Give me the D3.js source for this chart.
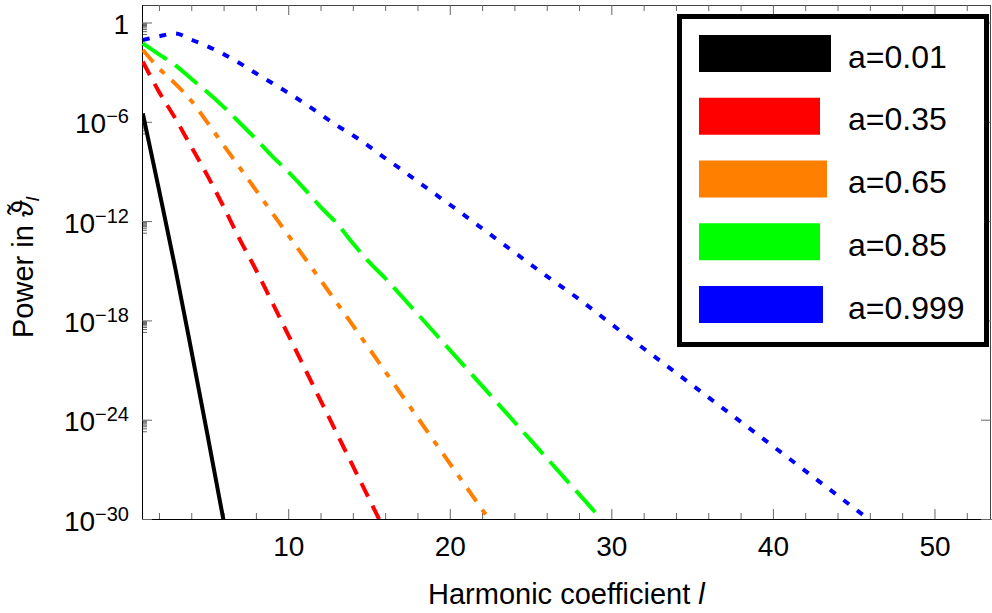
<!DOCTYPE html>
<html>
<head>
<meta charset="utf-8">
<script src="https://cdn.jsdelivr.net/npm/d3@7"></script>
<style>
  html, body { margin: 0; padding: 0; background: #fff; }
  svg { display: block; }
  text { font-family: "Liberation Sans", Arial, Helvetica, sans-serif; fill: #000; }
</style>
</head>
<body>
<svg id="chart" width="992" height="613"></svg>
<script>
// ---------------- data ----------------
const seriesNames = ["a=0.01", "a=0.35", "a=0.65", "a=0.85", "a=0.999"];

const blackL = [1, 2, 3, 4, 5, 6];
const blackP = [3.24e-6, 7.94e-11, 1.58e-15, 1.58e-20, 1.26e-25, 7.94e-31];

const redL = [1, 2, 3, 4, 5, 6, 7, 8, 9, 10, 11, 12, 13, 14, 15, 16];
const redP = [4.27e-3, 6.61e-5, 1.66e-6, 3.09e-8, 5.62e-10, 7.41e-12, 7.94e-14, 1.15e-15,
              1.29e-17, 1.35e-19, 1.41e-21, 1.48e-23, 1.55e-25, 1.62e-27, 1.70e-29, 1.78e-31];

const orangeL = [1, 2, 3, 4, 5, 6, 7, 8, 9, 10, 11, 12, 13, 14, 16, 18, 20, 22, 24];
const orangeP = [2.19e-2, 1.70e-3, 2.04e-4, 1.86e-5, 8.91e-7, 3.89e-8, 1.70e-9, 7.41e-11,
                 3.24e-12, 1.41e-13, 6.31e-15, 2.75e-16, 1.20e-17, 5.01e-19, 8.32e-22,
                 1.38e-24, 2.29e-27, 3.80e-30, 6.31e-33];

const greenL = [1, 2, 3, 4, 5, 6, 7, 8, 9, 10, 11, 12, 13, 14, 15, 16, 17, 18, 20, 22, 24, 26, 28, 30];
const greenP = [5.50e-2, 1.20e-2, 2.69e-3, 3.98e-4, 6.03e-5, 7.94e-6, 8.71e-7, 9.12e-8,
                8.51e-9, 9.55e-10, 8.91e-11, 7.24e-12, 7.41e-13, 4.57e-14, 3.39e-15,
                3.55e-16, 3.02e-17, 2.51e-18, 1.66e-20, 1.10e-22, 7.24e-25, 4.79e-27,
                3.16e-29, 2.09e-31];

const blueL = [1, 2, 3, 4, 5, 6, 7, 8, 9, 10, 11, 12, 13, 14, 15, 16, 17, 18, 19, 20,
               22, 24, 26, 28, 30, 35, 40, 46];
const blueP = [8.71e-2, 0.145, 0.219, 9.12e-2, 3.63e-2, 1.23e-2, 3.47e-3, 8.51e-4,
               2.19e-4, 5.62e-5, 1.32e-5, 2.88e-6, 6.03e-7, 1.55e-7, 3.31e-8, 6.31e-9,
               1.32e-9, 2.51e-10, 5.01e-11, 1.0e-11, 3.63e-13, 1.29e-14, 4.68e-16,
               1.91e-17, 6.03e-19, 1.26e-22, 2.51e-26, 8.51e-31];

// tick values and labels
const xMajorTicks = [10, 20, 30, 40, 50];
const xMinorTicks = [2, 4, 6, 8, 12, 14, 16, 18, 22, 24, 26, 28, 32, 34, 36, 38, 42, 44, 46, 48, 52];
const yMajorTicks = [1, 1e-6, 1e-12, 1e-18, 1e-24, 1e-30];
const yTickLabels = ["1", "10^\u22126", "10^\u221212", "10^\u221218", "10^\u221224", "10^\u221230"];

const xLabel = "Harmonic coefficient ";
const xLabelVar = "l";
const yLabel = "Power in ";
const yLabelVar = "\u03D1\u0303";
const yLabelSub = "l";

// ---------------- styles ----------------
const colors = ["#000000", "#ff0000", "#ff7f00", "#00ff00", "#0000ff"];
const dashes = [null, "15,10", "16,10,6,10", "29,10", "7,10"];
const swatchW = [132, 121, 128, 121, 124];

const series = [
  { L: blackL, P: blackP },
  { L: redL, P: redP },
  { L: orangeL, P: orangeP },
  { L: greenL, P: greenP },
  { L: blueL, P: blueP }
];

// ---------------- layout ----------------
const pLeft = 142, pRight = 991, pTop = 5, pBottom = 519;
const svg = d3.select("#chart");

const x = d3.scaleLinear().domain([0.95, 53.5]).range([pLeft, pRight]);
const y = d3.scaleLog().domain([1e-30, Math.pow(10, 1.057)]).range([pBottom, pTop]);

// y minor ticks: k * 10^(m-1) below each labelled major
const yMinorTicks = [];
yMajorTicks.slice(0, 5).forEach(v => {
  for (let k = 2; k <= 9; k++) yMinorTicks.push(v * k / 10);
});

const tickColor = "#666";

function styleAxis(g) {
  g.selectAll(".tick line").attr("stroke", tickColor);
  g.select(".domain").attr("stroke", "#000");
}

// clip
svg.append("defs").append("clipPath").attr("id", "plotclip")
  .append("rect").attr("x", pLeft).attr("y", pTop).attr("width", pRight - pLeft).attr("height", pBottom - pTop);

// frame lines (top/right)
svg.append("line").attr("x1", pLeft).attr("x2", pRight).attr("y1", pTop + 0.5).attr("y2", pTop + 0.5)
  .attr("stroke", "#444").attr("stroke-width", 1);
svg.append("line").attr("x1", pRight - 0.5).attr("x2", pRight - 0.5).attr("y1", pTop).attr("y2", pBottom)
  .attr("stroke", "#444").attr("stroke-width", 1);

// bottom axis - minor
svg.append("g").attr("transform", `translate(0,${pBottom})`)
  .call(d3.axisBottom(x).tickValues(xMinorTicks).tickSizeInner(-6).tickSizeOuter(0).tickFormat(""))
  .call(g => { g.select(".domain").remove(); g.selectAll(".tick line").attr("stroke", tickColor); });
// bottom axis - major
const bx = svg.append("g").attr("transform", `translate(0,${pBottom})`)
  .call(d3.axisBottom(x).tickValues(xMajorTicks).tickSizeInner(-10).tickSizeOuter(0).tickFormat(d3.format("d")))
  .call(styleAxis);
bx.selectAll(".tick text").attr("y", 37).attr("dy", null)
  .style("font-size", "28px").style("font-family", "'Liberation Sans', Arial, sans-serif").attr("fill", "#000");

// top axis
svg.append("g").attr("transform", `translate(0,${pTop})`)
  .call(d3.axisTop(x).tickValues(xMinorTicks).tickSizeInner(-6).tickSizeOuter(0).tickFormat(""))
  .call(g => { g.select(".domain").remove(); g.selectAll(".tick line").attr("stroke", tickColor); });
svg.append("g").attr("transform", `translate(0,${pTop})`)
  .call(d3.axisTop(x).tickValues(xMajorTicks).tickSizeInner(-10).tickSizeOuter(0).tickFormat(""))
  .call(g => { g.select(".domain").remove(); g.selectAll(".tick line").attr("stroke", tickColor); });

// left axis - minor
svg.append("g").attr("transform", `translate(${pLeft},0)`)
  .call(d3.axisLeft(y).tickValues(yMinorTicks).tickSizeInner(-5).tickSizeOuter(0).tickFormat(""))
  .call(g => { g.select(".domain").remove(); g.selectAll(".tick line").attr("stroke", tickColor); });
// left axis - major
const ly = svg.append("g").attr("transform", `translate(${pLeft},0)`)
  .call(d3.axisLeft(y).tickValues(yMajorTicks).tickSizeInner(-10).tickSizeOuter(0).tickFormat(""))
  .call(styleAxis);
ly.selectAll(".tick text").each(function (d, i) {
  const t = d3.select(this)
    .attr("x", -13).attr("y", 11).attr("dy", null)
    .attr("text-anchor", "end").attr("fill", "#000")
    .style("font-size", "28px").style("font-family", "'Liberation Sans', Arial, sans-serif");
  const parts = yTickLabels[i].split("^");
  t.text(null);
  t.append("tspan").text(parts[0]);
  if (parts.length > 1) {
    t.append("tspan").attr("dy", -10).style("font-size", "20px").text(parts[1]);
  }
});

// right axis (major only)
svg.append("g").attr("transform", `translate(${pRight},0)`)
  .call(d3.axisRight(y).tickValues(yMajorTicks).tickSizeInner(-10).tickSizeOuter(0).tickFormat(""))
  .call(g => { g.select(".domain").remove(); g.selectAll(".tick line").attr("stroke", tickColor); });

// lines
const line = d3.line()
  .x(d => x(d[0]))
  .y(d => y(d[1]))
  .curve(d3.curveMonotoneX);

const plot = svg.append("g").attr("clip-path", "url(#plotclip)");
series.forEach((s, i) => {
  const pts = s.L.map((l, j) => [l, s.P[j]]);
  plot.append("path")
    .datum(pts)
    .attr("d", line)
    .attr("fill", "none")
    .attr("stroke", colors[i])
    .attr("stroke-width", 4)
    .attr("stroke-linecap", "butt")
    .attr("stroke-linejoin", "round")
    .attr("stroke-dasharray", dashes[i]);
});

// axis labels
const xl = svg.append("text").attr("x", 428).attr("y", 604).style("font-size", "29px");
xl.append("tspan").text(xLabel);
xl.append("tspan").style("font-style", "italic").text(xLabelVar);

const yl = svg.append("text").attr("transform", "translate(33,338) rotate(-90)").style("font-size", "29px");
yl.append("tspan").text(yLabel);
yl.append("tspan").style("font-style", "italic").text(yLabelVar);
yl.append("tspan").attr("dy", 6).style("font-size", "19px").style("font-style", "italic").text(yLabelSub);

// legend
const lg = svg.append("g");
lg.append("rect").attr("x", 679.5).attr("y", 16.5).attr("width", 307).attr("height", 328)
  .attr("fill", "#fff").attr("stroke", "#000").attr("stroke-width", 5);
seriesNames.forEach((name, i) => {
  const sy = 35 + i * 62.75;
  lg.append("rect").attr("x", 699).attr("y", sy).attr("width", swatchW[i]).attr("height", 37)
    .attr("fill", colors[i]);
  lg.append("text").attr("x", 848).attr("y", sy + 32.5).style("font-size", "32px").text(name);
});
</script>
</body>
</html>
